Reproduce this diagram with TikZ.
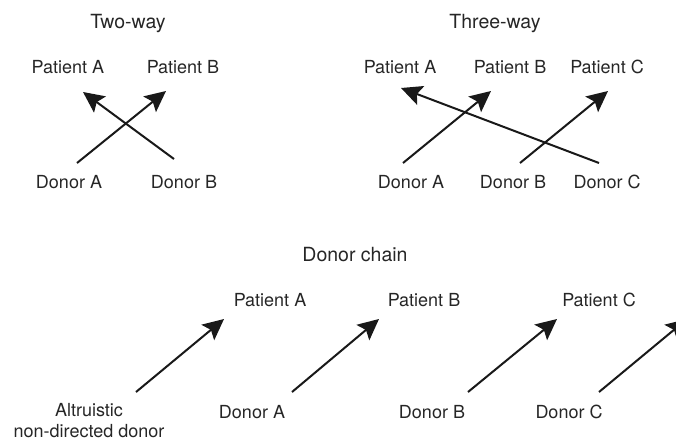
\documentclass[tikz,border=0pt]{standalone}
\usepackage{fontspec}
\setmainfont{TeX Gyre Heros}
\usetikzlibrary{arrows.meta}
\begin{document}
\begin{tikzpicture}[x=1pt,y=-1pt,
  lbl/.style={anchor=base,inner sep=0pt,font=\fontsize{18}{21}\selectfont,text=black!85},
  ttl/.style={anchor=base,inner sep=0pt,font=\fontsize{19.5}{23}\selectfont,text=black!85},
  arr/.style={line width=2pt,draw=black!90,-{Stealth[length=21pt,width=20pt,inset=4pt]}}]
\useasboundingbox (0,0) rectangle (676,440);
% Two-way
\node[ttl] (t1) at (128,28) {Two-way};
\node[lbl] (pA1) at (68,73) {Patient A};
\node[lbl] (pB1) at (183,73) {Patient B};
\node[lbl] (dA1) at (69,188) {Donor A};
\node[lbl] (dB1) at (184,188) {Donor B};
\coordinate (a1s) at (77,163); \coordinate (a1e) at (166,91);
\coordinate (b1s) at (174,159); \coordinate (b1e) at (83,92);
\draw[arr] (a1s) -- (a1e);
\draw[arr] (b1s) -- (b1e);
% Three-way
\node[ttl] (t2) at (495,28) {Three-way};
\node[lbl] (pA2) at (400,73) {Patient A};
\node[lbl] (pB2) at (510,73) {Patient B};
\node[lbl] (pC2) at (607,73) {Patient C};
\node[lbl] (dA2) at (411,188) {Donor A};
\node[lbl] (dB2) at (513,188) {Donor B};
\node[lbl] (dC2) at (607,188) {Donor C};
\coordinate (a2s) at (403,163); \coordinate (a2e) at (491,91);
\coordinate (c2s) at (599,163); \coordinate (c2e) at (401,88);
\coordinate (b2s) at (520,163); \coordinate (b2e) at (608,91);
\draw[arr] (a2s) -- (a2e);
\draw[arr] (c2s) -- (c2e);
\draw[arr] (b2s) -- (b2e);
% Donor chain
\node[ttl] (t3) at (355,261) {Donor chain};
\node[lbl] (pA3) at (270,306) {Patient A};
\node[lbl] (pB3) at (424,306) {Patient B};
\node[lbl] (pC3) at (599,306) {Patient C};
\node[lbl,anchor=north,align=center] (alt) at (89,403) {Altruistic\\non-directed donor};
\node[lbl] (dA3) at (252,418) {Donor A};
\node[lbl] (dB3) at (432,418) {Donor B};
\node[lbl] (dC3) at (569,418) {Donor C};
\coordinate (c1s) at (136,392); \coordinate (c1e) at (224,319);
\coordinate (c2s') at (292,392); \coordinate (c2e') at (379,319);
\coordinate (c3s) at (468,392); \coordinate (c3e) at (557,319);
\coordinate (c4s) at (599,392); \coordinate (c4e) at (687,319);
\draw[arr] (c1s) -- (c1e);
\draw[arr] (c2s') -- (c2e');
\draw[arr] (c3s) -- (c3e);
\draw[arr] (c4s) -- (c4e);
\end{tikzpicture}
\end{document}
